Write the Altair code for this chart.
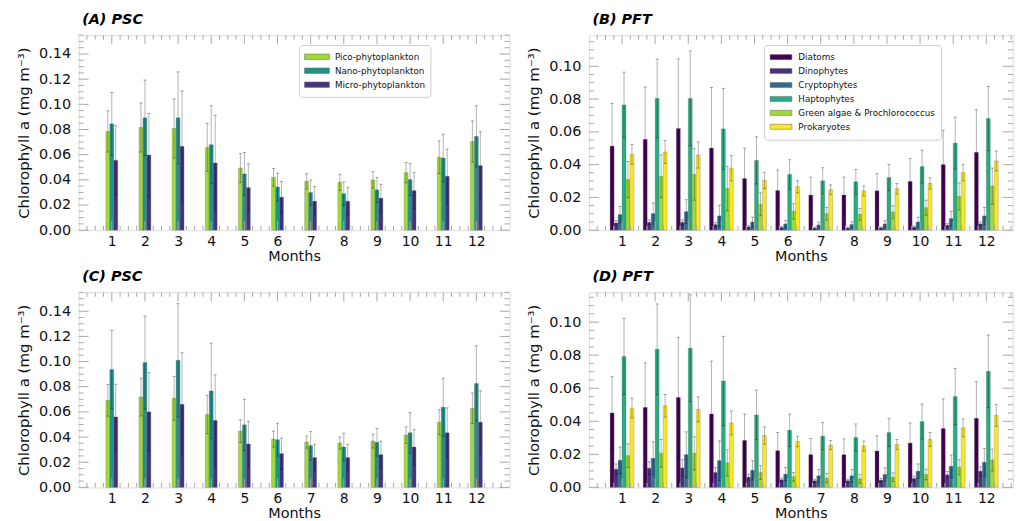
import altair as alt
import pandas as pd
import numpy as np

months = list(range(1, 13))

psc_groups = ["Pico-phytoplankton", "Nano-phytoplankton", "Micro-phytoplankton"]
psc_colors = ["#a0da39", "#21918c", "#46327e"]
pft_groups = ["Diatoms", "Dinophytes", "Cryptophytes", "Haptophytes",
              "Green algae & Prochlorococcus", "Prokaryotes"]
pft_colors = ["#440154", "#46327e", "#2d6e8e", "#26ad81", "#a0da39", "#fde725"]

# ---- Panel A (PSC) ----
a_pico = [0.0785, 0.0816, 0.0808, 0.0658, 0.0494, 0.0420, 0.0388, 0.0380, 0.0399, 0.0457, 0.0579, 0.0705]
a_pico_err = [0.0164, 0.0195, 0.0235, 0.0190, 0.0114, 0.0070, 0.0060, 0.0064, 0.0066, 0.0080, 0.0130, 0.0164]
a_nano = [0.0845, 0.0893, 0.0893, 0.0679, 0.0447, 0.0343, 0.0299, 0.0290, 0.0320, 0.0402, 0.0573, 0.0745]
a_nano_err = [0.0250, 0.0300, 0.0365, 0.0310, 0.0170, 0.0110, 0.0100, 0.0093, 0.0098, 0.0127, 0.0190, 0.0243]
a_micro = [0.0555, 0.0597, 0.0666, 0.0534, 0.0338, 0.0262, 0.0230, 0.0230, 0.0254, 0.0314, 0.0428, 0.0513]
a_micro_err = [0.0275, 0.0330, 0.0440, 0.0380, 0.0190, 0.0124, 0.0116, 0.0110, 0.0110, 0.0143, 0.0217, 0.0270]

# ---- Panel B (PFT) ----
b_diat = [0.0513, 0.0554, 0.0620, 0.0501, 0.0315, 0.0242, 0.0214, 0.0214, 0.0240, 0.0297, 0.0400, 0.0475]
b_diat_err = [0.0260, 0.0320, 0.0426, 0.0370, 0.0186, 0.0125, 0.0110, 0.0110, 0.0105, 0.0140, 0.0210, 0.0260]
b_dino = [0.0044, 0.0048, 0.0048, 0.0034, 0.0020, 0.0016, 0.0012, 0.0012, 0.0014, 0.0018, 0.0030, 0.0038]
b_dino_err = [0.0015, 0.0015, 0.0015, 0.0012, 0.0008, 0.0007, 0.0006, 0.0006, 0.0006, 0.0008, 0.0010, 0.0012]
b_crypto = [0.0095, 0.0101, 0.0113, 0.0087, 0.0050, 0.0038, 0.0032, 0.0034, 0.0038, 0.0050, 0.0071, 0.0087]
b_crypto_err = [0.0050, 0.0065, 0.0073, 0.0065, 0.0030, 0.0022, 0.0018, 0.0018, 0.0020, 0.0029, 0.0045, 0.0052]
b_hapto = [0.0764, 0.0804, 0.0804, 0.0618, 0.0426, 0.0340, 0.0301, 0.0295, 0.0321, 0.0388, 0.0531, 0.0681]
b_hapto_err = [0.0200, 0.0240, 0.0290, 0.0247, 0.0144, 0.0090, 0.0080, 0.0075, 0.0080, 0.0100, 0.0158, 0.0196]
b_green = [0.0309, 0.0329, 0.0340, 0.0253, 0.0158, 0.0115, 0.0101, 0.0097, 0.0111, 0.0137, 0.0206, 0.0269]
b_green_err = [0.0110, 0.0130, 0.0157, 0.0135, 0.0070, 0.0047, 0.0038, 0.0036, 0.0038, 0.0046, 0.0083, 0.0110]
b_prok = [0.0463, 0.0477, 0.0459, 0.0378, 0.0303, 0.0265, 0.0246, 0.0240, 0.0253, 0.0285, 0.0352, 0.0422]
b_prok_err = [0.0060, 0.0070, 0.0080, 0.0077, 0.0050, 0.0037, 0.0030, 0.0030, 0.0032, 0.0034, 0.0050, 0.0060]

# ---- Panel C (PSC) ----
c_pico = [0.0692, 0.0718, 0.0708, 0.0579, 0.0447, 0.0384, 0.0360, 0.0353, 0.0368, 0.0416, 0.0518, 0.0629]
c_pico_err = [0.0126, 0.0150, 0.0174, 0.0153, 0.0090, 0.0063, 0.0048, 0.0047, 0.0055, 0.0066, 0.0100, 0.0121]
c_nano = [0.0937, 0.0992, 0.1010, 0.0766, 0.0497, 0.0379, 0.0332, 0.0321, 0.0358, 0.0434, 0.0637, 0.0826]
c_nano_err = [0.0310, 0.0370, 0.0450, 0.0380, 0.0203, 0.0130, 0.0113, 0.0110, 0.0110, 0.0160, 0.0230, 0.0298]
c_micro = [0.0560, 0.0600, 0.0660, 0.0532, 0.0345, 0.0268, 0.0237, 0.0237, 0.0260, 0.0321, 0.0434, 0.0518]
c_micro_err = [0.0260, 0.0313, 0.0410, 0.0363, 0.0180, 0.0124, 0.0105, 0.0105, 0.0106, 0.0137, 0.0198, 0.0250]

# ---- Panel D (PFT) ----
d_diat = [0.0450, 0.0484, 0.0544, 0.0444, 0.0284, 0.0222, 0.0198, 0.0198, 0.0220, 0.0268, 0.0356, 0.0418]
d_diat_err = [0.0220, 0.0270, 0.0364, 0.0320, 0.0160, 0.0110, 0.0098, 0.0096, 0.0092, 0.0122, 0.0180, 0.0222]
d_dino = [0.0110, 0.0116, 0.0118, 0.0090, 0.0062, 0.0046, 0.0040, 0.0040, 0.0044, 0.0054, 0.0076, 0.0098]
d_dino_err = [0.0032, 0.0040, 0.0050, 0.0030, 0.0018, 0.0010, 0.0010, 0.0010, 0.0010, 0.0014, 0.0020, 0.0026]
d_crypto = [0.0164, 0.0176, 0.0198, 0.0162, 0.0104, 0.0080, 0.0070, 0.0070, 0.0078, 0.0098, 0.0128, 0.0152]
d_crypto_err = [0.0080, 0.0100, 0.0138, 0.0120, 0.0058, 0.0040, 0.0038, 0.0038, 0.0040, 0.0044, 0.0068, 0.0084]
d_hapto = [0.0792, 0.0836, 0.0842, 0.0644, 0.0438, 0.0346, 0.0310, 0.0302, 0.0332, 0.0398, 0.0550, 0.0702]
d_hapto_err = [0.0230, 0.0274, 0.0324, 0.0270, 0.0150, 0.0098, 0.0082, 0.0082, 0.0084, 0.0106, 0.0170, 0.0220]
d_green = [0.0192, 0.0206, 0.0206, 0.0148, 0.0090, 0.0064, 0.0056, 0.0052, 0.0062, 0.0078, 0.0122, 0.0166]
d_green_err = [0.0072, 0.0084, 0.0100, 0.0080, 0.0042, 0.0026, 0.0028, 0.0026, 0.0026, 0.0032, 0.0046, 0.0066]
d_prok = [0.0480, 0.0494, 0.0472, 0.0390, 0.0314, 0.0278, 0.0256, 0.0250, 0.0260, 0.0290, 0.0360, 0.0436]
d_prok_err = [0.0060, 0.0068, 0.0076, 0.0072, 0.0052, 0.0032, 0.0028, 0.0030, 0.0030, 0.0042, 0.0054, 0.0066]

psc_yticks = [0.00, 0.02, 0.04, 0.06, 0.08, 0.10, 0.12, 0.14]
pft_yticks = [0.00, 0.02, 0.04, 0.06, 0.08, 0.10]

FONT = "DejaVu Sans"
FRAME = "#a8a8a8"
H = 196
BAR_W = 0.12


def make_panel(title, groups, colors, means, errs, ymax, xmax, width, yticks,
               legend=None):
    rows = []
    n = len(groups)
    for gi, (g, vals, es) in enumerate(zip(groups, means, errs)):
        for m, v, e in zip(months, vals, es):
            xc = m + (gi - (n - 1) / 2) * BAR_W
            rows.append(dict(month=m, group=g, value=v, err=e,
                             x0=xc - BAR_W / 2, x1=xc + BAR_W / 2, xc=xc,
                             lo=max(v - e, 0.0), hi=v + e))
    df = pd.DataFrame(rows)

    xs = alt.Scale(domain=[0, xmax], nice=False, zero=False)
    ys = alt.Scale(domain=[0, ymax], nice=False)

    xaxis = alt.Axis(values=months, tickCount=40, format="d", title="Months",
                     labelFontSize=14, titleFontSize=14.5, ticks=False, tickSize=0,
                     domain=False, grid=False, labelPadding=4, labelOverlap=False,
                     titlePadding=1, labelColor="#111", titleColor="#111",
                     titleFontWeight="normal", labelFont=FONT, titleFont=FONT)
    yaxis = alt.Axis(values=yticks, tickCount=40, format=".2f",
                     title="Chlorophyll a (mg m⁻³)",
                     labelFontSize=14.5, titleFontSize=15, ticks=False, tickSize=0,
                     domain=False, grid=False, labelPadding=8, titlePadding=7,
                     labelOverlap=False, labelColor="#111", titleColor="#111",
                     titleFontWeight="normal", labelFont=FONT, titleFont=FONT)

    if legend is None:
        leg = None
    else:
        leg = alt.Legend(orient="none", legendX=legend["x"], legendY=legend["y"],
                         title=None, fillColor="white", strokeColor="#cccccc",
                         padding=legend["pad"], cornerRadius=3,
                         labelFontSize=legend["fs"], labelFont=FONT, labelColor="#111",
                         symbolType=legend["path"], symbolSize=legend["size"],
                         symbolOffset=0, labelOffset=legend["loff"],
                         symbolStrokeColor="#777", symbolStrokeWidth=0.6,
                         symbolOpacity=1, rowPadding=0, clipHeight=legend["row"],
                         labelLimit=300)

    base = alt.Chart(df)
    bars = base.mark_bar(stroke="#666", strokeWidth=0.5, strokeOpacity=0.6).encode(
        x=alt.X("x0:Q", scale=xs, axis=xaxis),
        x2="x1:Q",
        y=alt.Y("value:Q", scale=ys, axis=yaxis),
        y2=alt.datum(0),
        color=alt.Color("group:N", scale=alt.Scale(domain=groups, range=colors),
                        legend=leg),
    )
    err = base.mark_rule(color="black", opacity=0.3, strokeWidth=1).encode(
        x="xc:Q", y="lo:Q", y2="hi:Q")
    cap_hi = base.mark_tick(color="black", opacity=0.35, thickness=1, size=3,
                            orient="horizontal").encode(x="xc:Q", y="hi:Q")
    cap_lo = base.mark_tick(color="black", opacity=0.35, thickness=1, size=3,
                            orient="horizontal").encode(x="xc:Q", y="lo:Q")

    # inward ticks (matplotlib style)
    ymaj = pd.DataFrame({"v": yticks})
    step = 0.005
    yminor_vals = [round(k * step, 4) for k in range(int(ymax / step) + 1)]
    ymin = pd.DataFrame({"v": [v for v in yminor_vals if round(v / 0.02, 6) % 1 != 0]})
    xmaj = pd.DataFrame({"v": months})
    xminor_vals = [k * 0.25 for k in range(int(xmax / 0.25) + 1)]
    xmin = pd.DataFrame({"v": [v for v in xminor_vals if v % 1 != 0]})

    def yrule(d, x1, x2):
        return alt.Chart(d).mark_rule(color=FRAME, strokeWidth=1).encode(
            y="v:Q", x=alt.value(x1), x2=alt.value(x2))

    def xrule(d, y1, y2):
        return alt.Chart(d).mark_rule(color=FRAME, strokeWidth=1).encode(
            x="v:Q", y=alt.value(y1), y2=alt.value(y2))

    ticks = [
        yrule(ymaj, 0, 10), yrule(ymin, 0, 5),
        yrule(ymaj, width, width - 10), yrule(ymin, width, width - 5),
        xrule(xmaj, H, H - 9), xrule(xmin, H, H - 4.5),
        xrule(xmaj, 0, 9), xrule(xmin, 0, 4.5),
    ]

    chart = alt.layer(bars, err, cap_hi, cap_lo, *ticks).properties(
        width=width, height=H,
        title=alt.TitleParams(title, anchor="start", frame="group", fontSize=14.5,
                              fontStyle="italic", fontWeight="bold", offset=7,
                              dx=3.5, color="black", font=FONT),
    )
    return chart


psc_leg = dict(x=221.5, y=10, pad=5, path="M-1,-0.22H1V0.22H-1Z", size=625,
               loff=5, row=13.5, fs=8.8)
pft_leg = dict(x=176, y=10, pad=5.5, path="M-1,-0.23H1V0.23H-1Z", size=484,
               loff=6, row=13.2, fs=8.8)

WA = 433
WB = 426
panel_a = make_panel("(A) PSC", psc_groups, psc_colors,
                     [a_pico, a_nano, a_micro], [a_pico_err, a_nano_err, a_micro_err],
                     0.155, 13, WA, psc_yticks, psc_leg)
panel_b = make_panel("(B) PFT", pft_groups, pft_colors,
                     [b_diat, b_dino, b_crypto, b_hapto, b_green, b_prok],
                     [b_diat_err, b_dino_err, b_crypto_err, b_hapto_err, b_green_err, b_prok_err],
                     0.119, 12.8, WB, pft_yticks, pft_leg)
panel_c = make_panel("(C) PSC", psc_groups, psc_colors,
                     [c_pico, c_nano, c_micro], [c_pico_err, c_nano_err, c_micro_err],
                     0.155, 13, WA, psc_yticks, None)
panel_d = make_panel("(D) PFT", pft_groups, pft_colors,
                     [d_diat, d_dino, d_crypto, d_hapto, d_green, d_prok],
                     [d_diat_err, d_dino_err, d_crypto_err, d_hapto_err, d_green_err, d_prok_err],
                     0.118, 12.8, WB, pft_yticks, None)

chart = alt.concat(panel_a, panel_b, panel_c, panel_d, columns=2,
                   spacing={"row": 62.5, "column": 79.8}, bounds="flush").resolve_scale(
    color="independent").resolve_legend(color="independent").properties(
    padding={"left": 8, "top": 2, "right": 0, "bottom": 0},
    background="white",
).configure_view(stroke=FRAME, strokeWidth=1).configure(font=FONT).configure_axis(
    labelOverlap=False, labelFlush=False, labelBound=False)

chart.save("out.html", embed_options={"renderer": "svg", "actions": False})
